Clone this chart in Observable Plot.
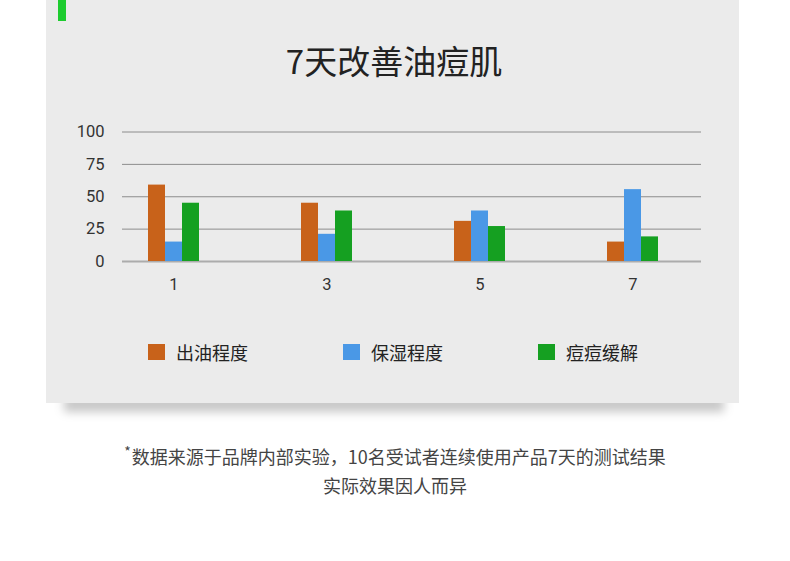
<!DOCTYPE html>
<html>
<head>
<meta charset="utf-8">
<script src="https://cdn.jsdelivr.net/npm/d3@7"></script>
<script src="https://cdn.jsdelivr.net/npm/@observablehq/plot@0.6"></script>
<style>
  html, body { margin: 0; padding: 0; background: #ffffff; }
  #page { position: relative; width: 790px; height: 561px; overflow: hidden; font-family: "Noto Sans CJK SC", "Noto Sans", sans-serif; }
  #shadow { position: absolute; left: 64px; top: 396px; width: 660px; height: 16px; background: rgba(0,0,0,0.22); filter: blur(5px); }
  #panel { position: absolute; left: 46px; top: 0; width: 693px; height: 403px; background: #ebebeb; }
  #accent { position: absolute; left: 58px; top: 0; width: 8px; height: 21px; background: #1dcc2f; }
  #title { position: absolute; left: 46px; width: 696px; top: 44px; text-align: center; font-size: 33px; line-height: 33px; color: #222; }
  #chart { position: absolute; left: 0; top: 0; }
  #legend { position: absolute; left: 148px; top: 343px; display: flex; }
  .item { display: flex; align-items: center; width: 195px; height: 18px; }
  .sw { width: 17px; height: 16px; margin-right: 11px; }
  .lab { font-size: 18px; line-height: 18px; color: #222; white-space: nowrap; }
  #note { position: absolute; left: 0; width: 790px; top: 442px; text-align: center; font-size: 18px; line-height: 29px; color: #444; }
  #note div { height: 29px; }
  #note sup { font-size: 14px; line-height: 0; vertical-align: 0; position: relative; top: -7px; margin-right: 1px; }
</style>
</head>
<body>
<div id="page">
  <div id="shadow"></div>
  <div id="panel"></div>
  <div id="accent"></div>
  <div id="title">7天改善油痘肌</div>
  <div id="chart"></div>
  <div id="legend"></div>
  <div id="note"><div><sup>*</sup>数据来源于品牌内部实验，10名受试者连续使用产品7天的测试结果</div><div>实际效果因人而异</div></div>
</div>
<script>
// ---- data ----
const days = [1, 3, 5, 7];
const seriesNames = ["出油程度", "保湿程度", "痘痘缓解"];
const oil = [59, 45, 31, 15];
const moisture = [15, 21, 39, 55.5];
const acne = [45, 39, 27, 19];
const colors = ["#c8621a", "#4a98e6", "#15a021"];
const yTicks = [0, 25, 50, 75, 100];
const gapSlots = 6;

// ---- build table & composite band domain ----
const values = [oil, moisture, acne];
const key = (d, s) => `${d}|${s}`;
const rows = [];
days.forEach((d, i) => seriesNames.forEach((s, j) => rows.push({day: d, series: s, value: values[j][i], k: key(d, s)})));
const domain = [];
days.forEach((d, i) => {
  seriesNames.forEach(s => domain.push(key(d, s)));
  if (i < days.length - 1) for (let g = 0; g < gapSlots; g++) domain.push(`gap${d}-${g}`);
});
const middle = new Map(days.map(d => [key(d, seriesNames[1]), String(d)]));

const chart = Plot.plot({
  width: 790,
  height: 300,
  marginLeft: 122,
  marginRight: 89,
  marginTop: 131.5,
  marginBottom: 39,
  style: {background: "transparent", fontFamily: "Roboto, 'Liberation Sans', sans-serif", fontSize: "16.5px", color: "#333"},
  x: {type: "band", domain, range: [148, 658], padding: 0, round: false, tickSize: 0, tickPadding: 17,
      tickFormat: k => middle.get(k) ?? "", label: null},
  y: {domain: [0, 100], ticks: yTicks, tickSize: 0, tickPadding: 18, label: null},
  color: {domain: seriesNames, range: colors},
  marks: [
    Plot.ruleY(yTicks.filter(t => t > 0), {stroke: "#8c8c8c", strokeWidth: 1}),
    Plot.ruleY([0], {stroke: "#acacac", strokeWidth: 2}),
    Plot.barY(rows, {x: "k", y: "value", fill: "series"})
  ]
});
document.getElementById("chart").appendChild(chart);

// ---- legend ----
const legend = document.getElementById("legend");
seriesNames.forEach((s, j) => {
  const it = document.createElement("div");
  it.className = "item";
  it.innerHTML = `<div class="sw" style="background:${colors[j]}"></div><div class="lab">${s}</div>`;
  legend.appendChild(it);
});
</script>
</body>
</html>
